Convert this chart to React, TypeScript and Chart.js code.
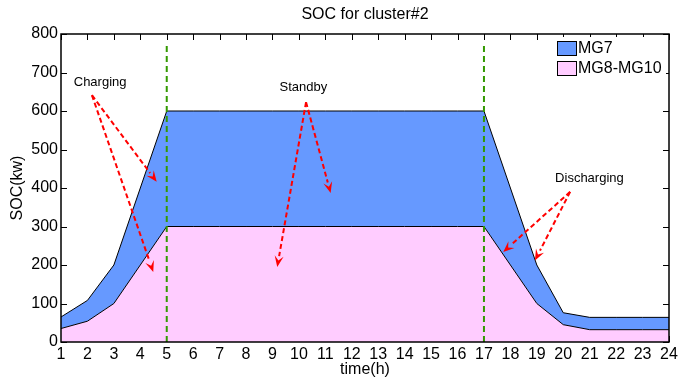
import React, { useEffect, useRef } from "react";
import { Chart, registerables } from "chart.js";

Chart.register(...registerables);

const hours = [1, 2, 3, 4, 5, 6, 7, 8, 9, 10, 11, 12, 13, 14, 15, 16, 17, 18, 19, 20, 21, 22, 23, 24];
const mg8to10 = [35, 54, 100, 200, 300, 300, 300, 300, 300, 300, 300, 300, 300, 300, 300, 300, 300, 200, 100, 45, 32, 32, 32, 32];
const mg7 = [30, 54, 100, 200, 300, 300, 300, 300, 300, 300, 300, 300, 300, 300, 300, 300, 300, 200, 100, 31, 32, 32, 32, 32];
const yTicks = [0, 100, 200, 300, 400, 500, 600, 700, 800];
const phaseLines = [5, 17];

const annotations = [
  { text: "Charging", at: [2.48, 673], from: [2.17, 641], to: [[4.62, 416], [4.49, 182]] },
  { text: "Standby", at: [10.17, 661], from: [10.27, 623], to: [[11.2, 387], [9.18, 195]] },
  { text: "Discharging", at: [20.99, 426], from: [20.26, 390], to: [[17.73, 234], [18.93, 212]] },
];

const BLUE = "rgb(102,153,255)";
const PINK = "rgb(255,204,255)";
const FONT = "Arial, 'Liberation Sans', Helvetica, sans-serif";

const decorPlugin = {
  id: "decor",
  beforeDatasetsDraw(chart: any) {
    const { ctx, chartArea: a, scales } = chart;
    const xs = scales.x, ys = scales.y;
    ctx.save();
    ctx.strokeStyle = "#000";
    ctx.lineWidth = 1;
    const tl = 6;
    hours.forEach((h) => {
      const px = Math.round(xs.getPixelForValue(h)) + 0.5;
      ctx.beginPath();
      ctx.moveTo(px, a.top);
      ctx.lineTo(px, a.top + tl);
      ctx.moveTo(px, a.bottom);
      ctx.lineTo(px, a.bottom - tl);
      ctx.stroke();
    });
    yTicks.forEach((v) => {
      const py = Math.round(ys.getPixelForValue(v)) + 0.5;
      ctx.beginPath();
      ctx.moveTo(a.left, py);
      ctx.lineTo(a.left + tl, py);
      ctx.moveTo(a.right, py);
      ctx.lineTo(a.right - tl, py);
      ctx.stroke();
    });
    ctx.restore();
  },
  afterDatasetsDraw(chart: any) {
    const { ctx, chartArea: a, scales } = chart;
    const xs = scales.x, ys = scales.y;
    ctx.save();
    // phase lines
    ctx.strokeStyle = "rgb(51,153,0)";
    ctx.lineWidth = 2;
    ctx.setLineDash([6, 4]);
    phaseLines.forEach((h) => {
      const px = xs.getPixelForValue(h);
      ctx.beginPath();
      ctx.moveTo(px, ys.getPixelForValue(0));
      ctx.lineTo(px, ys.getPixelForValue(778));
      ctx.stroke();
    });
    // arrows
    ctx.strokeStyle = "rgb(255,0,0)";
    ctx.fillStyle = "rgb(255,0,0)";
    annotations.forEach((an) => {
      const fx = xs.getPixelForValue(an.from[0]);
      const fy = ys.getPixelForValue(an.from[1]);
      an.to.forEach((t) => {
        const tx = xs.getPixelForValue(t[0]);
        const ty = ys.getPixelForValue(t[1]);
        const ang = Math.atan2(ty - fy, tx - fx);
        const hl = 11, hw = 4.5;
        const bx = tx - hl * Math.cos(ang);
        const by = ty - hl * Math.sin(ang);
        ctx.setLineDash([5, 3]);
        ctx.lineWidth = 2;
        ctx.beginPath();
        ctx.moveTo(fx, fy);
        ctx.lineTo(bx, by);
        ctx.stroke();
        ctx.setLineDash([]);
        ctx.beginPath();
        ctx.moveTo(tx, ty);
        ctx.lineTo(bx + hw * Math.sin(ang), by - hw * Math.cos(ang));
        ctx.lineTo(tx - (hl * 0.6) * Math.cos(ang), ty - (hl * 0.6) * Math.sin(ang));
        ctx.lineTo(bx - hw * Math.sin(ang), by + hw * Math.cos(ang));
        ctx.closePath();
        ctx.fill();
      });
      ctx.fillStyle = "#000";
      ctx.font = `13px ${FONT}`;
      ctx.textAlign = "center";
      ctx.textBaseline = "middle";
      ctx.fillText(an.text, xs.getPixelForValue(an.at[0]), ys.getPixelForValue(an.at[1]));
      ctx.fillStyle = "rgb(255,0,0)";
    });
    ctx.setLineDash([]);
    // axis box
    ctx.strokeStyle = "#000";
    ctx.lineWidth = 1.5;
    ctx.strokeRect(a.left, a.top, a.right - a.left, a.bottom - a.top);
    // legend
    ctx.fillStyle = "#fff";
    ctx.fillRect(553, 37, 113, 42);
    const items = [
      { label: "MG7", color: BLUE },
      { label: "MG8-MG10", color: PINK },
    ];
    items.forEach((it, i) => {
      const y0 = 41 + i * 20;
      ctx.fillStyle = it.color;
      ctx.fillRect(557, y0, 20, 15);
      ctx.strokeStyle = "#000";
      ctx.lineWidth = 1;
      ctx.strokeRect(557.5, y0 + 0.5, 19, 14);
      ctx.fillStyle = "#000";
      ctx.font = `16px ${FONT}`;
      ctx.textAlign = "left";
      ctx.textBaseline = "middle";
      ctx.fillText(it.label, 578, y0 + 8);
    });
    // titles
    ctx.fillStyle = "#000";
    ctx.font = `16px ${FONT}`;
    ctx.textAlign = "center";
    ctx.textBaseline = "middle";
    ctx.fillText("SOC for cluster#2", (a.left + a.right) / 2, 15);
    ctx.fillText("time(h)", (a.left + a.right) / 2, 370);
    ctx.translate(18, (a.top + a.bottom) / 2);
    ctx.rotate(-Math.PI / 2);
    ctx.fillText("SOC(kw)", 0, 0);
    ctx.restore();
  },
};

export default function App() {
  const ref = useRef<HTMLCanvasElement>(null);
  useEffect(() => {
    document.body.style.margin = "0";
    const chart = new Chart(ref.current as HTMLCanvasElement, {
      type: "line",
      data: {
        datasets: [
          {
            label: "MG8-MG10",
            data: hours.map((h, i) => ({ x: h, y: mg8to10[i] })),
            backgroundColor: PINK,
            borderColor: "#000",
            borderWidth: 1,
            fill: "origin",
            pointRadius: 0,
            tension: 0,
          },
          {
            label: "MG7",
            data: hours.map((h, i) => ({ x: h, y: mg7[i] })),
            backgroundColor: BLUE,
            borderColor: "#000",
            borderWidth: 1,
            fill: "-1",
            pointRadius: 0,
            tension: 0,
          },
        ],
      },
      plugins: [decorPlugin],
      options: {
        animation: false,
        responsive: false,
        devicePixelRatio: 1,
        layout: { autoPadding: false, padding: { left: 0, top: 34, right: 10, bottom: 0 } },
        plugins: { legend: { display: false }, title: { display: false }, tooltip: { enabled: false } },
        scales: {
          x: {
            type: "linear",
            min: 1,
            max: 24,
            grid: { display: false, drawTicks: false },
            border: { display: false },
            ticks: {
              stepSize: 1,
              autoSkip: false,
              maxRotation: 0,
              padding: 3,
              color: "#000",
              font: { family: FONT, size: 16 },
            },
            afterFit: (s: any) => {
              s.height = 39;
              s.paddingLeft = 0;
              s.paddingRight = 0;
            },
          },
          y: {
            stacked: true,
            min: 0,
            max: 800,
            grid: { display: false, drawTicks: false },
            border: { display: false },
            ticks: {
              stepSize: 100,
              padding: 3,
              color: "#000",
              font: { family: FONT, size: 16 },
            },
            afterFit: (s: any) => {
              s.width = 61;
              s.paddingTop = 0;
              s.paddingBottom = 0;
            },
          },
        },
      },
    } as any);
    return () => chart.destroy();
  }, []);
  return (
    <div style={{ position: "absolute", left: 0, top: 0, width: 679, height: 381 }}>
      <canvas ref={ref} width={679} height={381} style={{ width: 679, height: 381 }} />
    </div>
  );
}
